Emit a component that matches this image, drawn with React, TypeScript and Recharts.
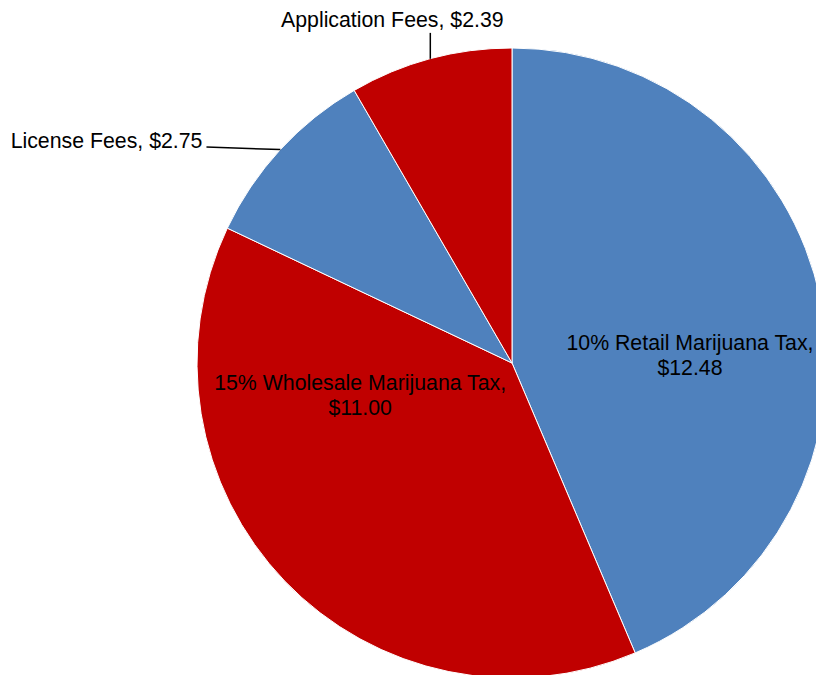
import React from "react";
import { PieChart, Pie, Cell } from "recharts";

// revenue by source, millions of dollars
const categories = [
  "10% Retail Marijuana Tax",
  "15% Wholesale Marijuana Tax",
  "License Fees",
  "Application Fees",
];
const amounts = [12.48, 11.0, 2.75, 2.39];
const sliceColors = ["#4F81BD", "#C00000", "#4F81BD", "#C00000"];

const data = categories.map((name, i) => ({ name, value: amounts[i] }));

const W = 816;
const H = 675;
const R = 315;
const FONT = "'Liberation Sans', Arial, sans-serif";
const FONT_SIZE = 21.3;
const RAD = Math.PI / 180;

// label placement, as fractions of the radius from the pie centre
// inside: text block centre; outside: where the leader line ends
const LABEL_LAYOUT: Record<number, { kind: "in" | "out"; fx: number; fy: number }> = {
  0: { kind: "in", fx: 0.565, fy: -0.024 },
  1: { kind: "in", fx: -0.482, fy: 0.103 },
  2: { kind: "out", fx: -0.97, fy: -0.686 },
  3: { kind: "out", fx: -0.257, fy: -1.048 },
};

const money = (v: number) => `$${v.toFixed(2)}`;

const renderLabel = (props: any) => {
  const { cx, cy, midAngle, outerRadius, index, name, value } = props;
  const layout = LABEL_LAYOUT[index];
  if (!layout) return null;
  const x = cx + layout.fx * outerRadius;
  const y = cy + layout.fy * outerRadius;

  if (layout.kind === "in") {
    return (
      <text
        x={x}
        y={y}
        textAnchor="middle"
        fontFamily={FONT}
        fontSize={FONT_SIZE}
        fill="#000"
      >
        <tspan x={x} dy={-5}>{`${name},`}</tspan>
        <tspan x={x} dy={25}>{money(value)}</tspan>
      </text>
    );
  }

  const ex = cx + outerRadius * Math.cos(-midAngle * RAD);
  const ey = cy + outerRadius * Math.sin(-midAngle * RAD);
  const vertical = index === 3;
  return (
    <g>
      <line x1={ex} y1={ey} x2={vertical ? ex : x} y2={y} stroke="#000" strokeWidth={1.5} />
      <text
        x={vertical ? ex - 38 : x - 4}
        y={vertical ? y - 6 : y + 1}
        textAnchor={vertical ? "middle" : "end"}
        fontFamily={FONT}
        fontSize={FONT_SIZE}
        fill="#000"
      >
        {`${name}, ${money(value)}`}
      </text>
    </g>
  );
};

export default function App() {
  return (
    <div style={{ position: "absolute", left: 0, top: 0, width: W, height: H, background: "#fff" }}>
      <PieChart width={W} height={H} margin={{ top: 0, right: 0, bottom: 0, left: 0 }}>
        <Pie
          data={data}
          dataKey="value"
          nameKey="name"
          cx={512}
          cy={363}
          outerRadius={R}
          startAngle={90}
          endAngle={-270}
          stroke="#fff"
          strokeWidth={1}
          label={renderLabel}
          labelLine={false}
          isAnimationActive={false}
        >
          {data.map((_, i) => (
            <Cell key={`cell-${i}`} fill={sliceColors[i]} />
          ))}
        </Pie>
      </PieChart>
    </div>
  );
}
